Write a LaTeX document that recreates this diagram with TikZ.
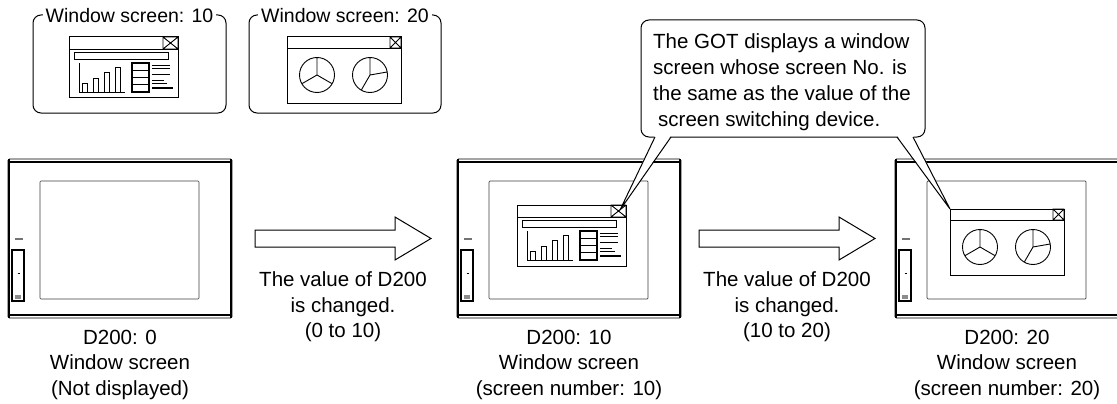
\documentclass[tikz,border=0pt]{standalone}
\usepackage{fontspec}
\setmainfont{Liberation Sans}
\tikzset{
  chartwin/.pic={
    \draw[fill=white, line width=1pt] (0,0) rectangle (109,61);
    \draw[line width=0.9pt] (0,12) -- (109,12);
    \draw[line width=0.9pt] (94,0) rectangle (109,12) (94,0) -- (109,12) (94,12) -- (109,0);
    \draw[line width=1.6pt] (5.5,15.5) rectangle (99.5,22.5);
    \draw[line width=0.9pt] (10,26) -- (10,55) -- (56,55);
    \draw[line width=0.9pt] (13,46) rectangle (18,55) (24,41) rectangle (29,55) (35,35) rectangle (40,55) (46,30) rectangle (51,55);
    \draw[line width=1.3pt] (63,26) rectangle (80,55) (63,33.25) -- (80,33.25) (63,40.5) -- (80,40.5) (63,47.75) -- (80,47.75);
    \draw[line width=0.9pt] (83,28) -- (101,28) (83,31) -- (101,31) (83,37) -- (101,37) (83,43) -- (95,43) (83,46.5) -- (98,46.5);
    \draw[line width=1.4pt] (83,51) -- (104,51);
  },
  piewin/.pic={
    \draw[fill=white, line width=1pt] (0,0) rectangle (114,66);
    \draw[line width=0.9pt] (0,11) -- (114,11);
    \draw[line width=0.9pt] (103,0) rectangle (114,11) (103,0) -- (114,11) (103,11) -- (114,0);
    \draw[line width=0.9pt] (30,38) circle[radius=17.5] (30,38) -- +(-90:17.5) (30,38) -- +(150:17.5) (30,38) -- +(30:17.5);
    \draw[line width=0.9pt] (83,38) circle[radius=17.5] (83,38) -- +(-90:17.5) (83,38) -- +(-10:17.5) (83,38) -- +(120:17.5);
  },
  got/.pic={
    \draw[fill=white, line width=0.8pt, rounded corners=1.5pt] (0,0) rectangle (224,159);
    \draw[line width=1.6pt] (0.8,0) -- (0.8,159) (223.2,0) -- (223.2,159) (0,3.2) -- (224,3.2) (0,155.8) -- (224,155.8);
    \draw[line width=0.7pt, black!75, rounded corners=1pt] (32,22) rectangle (191,140);
    \draw[line width=1.4pt, black!55] (7,80) -- (15,80);
    \draw[line width=1.3pt] (4,91) rectangle (16,142);
    \draw[line width=1pt] (9.5,114) -- (11.5,114);
    \fill[black!45] (7,136) rectangle (13,139.5);
  }
}
\begin{document}
\begin{tikzpicture}[x=1pt,y=-1pt,
  txt/.style={font=\fontsize{20.5}{25.5}\selectfont, align=center, anchor=north, inner sep=0pt},
  lbl/.style={font=\fontsize{19.5}{23}\selectfont, fill=white, inner xsep=3pt, inner ysep=1pt},
  blockarrow/.style={draw, fill=white, line width=1pt},
  frame/.style={draw, line width=1pt, rounded corners=8pt},
  bubble/.style={draw, line width=1pt, fill=white, rounded corners=8pt}]
\path[use as bounding box, clip] (0,0) rectangle (1117,404);

% window screen samples
\draw[frame] (33,15) rectangle (226,113);
\node[lbl] (l10) at (129.5,16) {Window screen: 10};
\pic at (69,37) {chartwin};
\draw[frame] (249,15) rectangle (441,113);
\node[lbl] (l20) at (345,16) {Window screen: 20};
\pic at (287,37) {piewin};

% GOT panels
\pic at (8,159) {got};
\pic at (457,159) {got};
\pic at (895,159) {got};
\pic at (517,205) {chartwin};
\pic at (950,209) {piewin};

% block arrows
\draw[blockarrow] (255,230) -- (395,230) -- (395,217) -- (431,238.5) -- (395,260) -- (395,247) -- (255,247) -- cycle;
\draw[blockarrow] (699,230) -- (839,230) -- (839,217) -- (875,238.5) -- (839,260) -- (839,247) -- (699,247) -- cycle;

% texts
\node[txt] (t1) at (120,329.5) {D200: 0\\Window screen\\(Not displayed)};
\node[txt] (t2) at (569,329.5) {D200: 10\\Window screen\\(screen number: 10)};
\node[txt] (t3) at (1007,329.5) {D200: 20\\Window screen\\(screen number: 20)};
\node[txt] (a1) at (343,271.5) {The value of D200\\is changed.\\(0 to 10)};
\node[txt] (a2) at (787,271.5) {The value of D200\\is changed.\\(10 to 20)};

% callout
\coordinate (tipL) at (620,210);
\coordinate (tipR) at (950,209);
\draw[bubble] (641,20) rectangle (925,137);
\fill[white] (655,135.5) -- (tipL) -- (671,135.5) -- cycle;
\draw[line width=1pt] (655,137) -- (tipL) -- (671,137);
\fill[white] (897,135.5) -- (tipR) -- (913,135.5) -- cycle;
\draw[line width=1pt] (897,137) -- (tipR) -- (913,137);
\node[font=\fontsize{20.5}{26}\selectfont, align=left, anchor=north west, inner sep=0pt] (ct) at (653,33.5)
  {The GOT displays a window\\screen whose screen No. is\\the same as the value of the\\\hspace*{5pt}screen switching device.};
\end{tikzpicture}
\end{document}
